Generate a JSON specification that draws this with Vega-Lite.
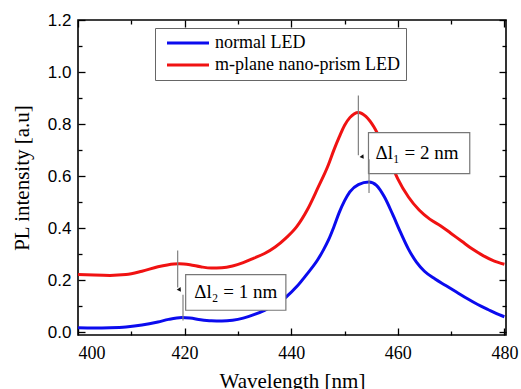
{
  "$schema": "https://vega.github.io/schema/vega-lite/v6.json",
  "width": 428,
  "height": 315,
  "autosize": {"type": "none"},
  "padding": {"left": 78, "top": 20, "right": 15, "bottom": 54},
  "background": "white",
  "config": {
    "view": {"stroke": "#000", "strokeWidth": 1.6},
    "axis": {
      "domain": false,
      "grid": false,
      "tickColor": "#000",
      "tickWidth": 1.3,
      "labelColor": "#000",
      "titleColor": "#000",
      "titleFontWeight": "normal"
    }
  },
  "datasets": {
    "curves": [
      {"wl": 400, "pl": 0.018, "s": "normal LED"},
      {"wl": 403, "pl": 0.017, "s": "normal LED"},
      {"wl": 406, "pl": 0.018, "s": "normal LED"},
      {"wl": 409, "pl": 0.021, "s": "normal LED"},
      {"wl": 412, "pl": 0.028, "s": "normal LED"},
      {"wl": 415, "pl": 0.040, "s": "normal LED"},
      {"wl": 417, "pl": 0.050, "s": "normal LED"},
      {"wl": 419.5, "pl": 0.057, "s": "normal LED"},
      {"wl": 421, "pl": 0.055, "s": "normal LED"},
      {"wl": 423, "pl": 0.049, "s": "normal LED"},
      {"wl": 425, "pl": 0.045, "s": "normal LED"},
      {"wl": 427, "pl": 0.044, "s": "normal LED"},
      {"wl": 429, "pl": 0.047, "s": "normal LED"},
      {"wl": 431, "pl": 0.055, "s": "normal LED"},
      {"wl": 433, "pl": 0.068, "s": "normal LED"},
      {"wl": 435, "pl": 0.085, "s": "normal LED"},
      {"wl": 437, "pl": 0.106, "s": "normal LED"},
      {"wl": 439, "pl": 0.135, "s": "normal LED"},
      {"wl": 441, "pl": 0.175, "s": "normal LED"},
      {"wl": 443, "pl": 0.225, "s": "normal LED"},
      {"wl": 445, "pl": 0.28, "s": "normal LED"},
      {"wl": 446, "pl": 0.315, "s": "normal LED"},
      {"wl": 447, "pl": 0.355, "s": "normal LED"},
      {"wl": 448, "pl": 0.405, "s": "normal LED"},
      {"wl": 449, "pl": 0.46, "s": "normal LED"},
      {"wl": 450, "pl": 0.505, "s": "normal LED"},
      {"wl": 451, "pl": 0.54, "s": "normal LED"},
      {"wl": 452.6, "pl": 0.568, "s": "normal LED"},
      {"wl": 454.6, "pl": 0.578, "s": "normal LED"},
      {"wl": 456, "pl": 0.565, "s": "normal LED"},
      {"wl": 457.5, "pl": 0.52, "s": "normal LED"},
      {"wl": 459, "pl": 0.455, "s": "normal LED"},
      {"wl": 460.5, "pl": 0.385, "s": "normal LED"},
      {"wl": 462, "pl": 0.32, "s": "normal LED"},
      {"wl": 463.5, "pl": 0.27, "s": "normal LED"},
      {"wl": 465, "pl": 0.235, "s": "normal LED"},
      {"wl": 467, "pl": 0.205, "s": "normal LED"},
      {"wl": 469, "pl": 0.18, "s": "normal LED"},
      {"wl": 471, "pl": 0.155, "s": "normal LED"},
      {"wl": 473, "pl": 0.13, "s": "normal LED"},
      {"wl": 475, "pl": 0.107, "s": "normal LED"},
      {"wl": 477, "pl": 0.087, "s": "normal LED"},
      {"wl": 479, "pl": 0.068, "s": "normal LED"},
      {"wl": 480, "pl": 0.06, "s": "normal LED"},
      {"wl": 400, "pl": 0.222, "s": "m-plane nano-prism LED"},
      {"wl": 403, "pl": 0.220, "s": "m-plane nano-prism LED"},
      {"wl": 406, "pl": 0.219, "s": "m-plane nano-prism LED"},
      {"wl": 409, "pl": 0.222, "s": "m-plane nano-prism LED"},
      {"wl": 412, "pl": 0.235, "s": "m-plane nano-prism LED"},
      {"wl": 415, "pl": 0.252, "s": "m-plane nano-prism LED"},
      {"wl": 418, "pl": 0.263, "s": "m-plane nano-prism LED"},
      {"wl": 419, "pl": 0.264, "s": "m-plane nano-prism LED"},
      {"wl": 421, "pl": 0.260, "s": "m-plane nano-prism LED"},
      {"wl": 423, "pl": 0.252, "s": "m-plane nano-prism LED"},
      {"wl": 425, "pl": 0.247, "s": "m-plane nano-prism LED"},
      {"wl": 427, "pl": 0.248, "s": "m-plane nano-prism LED"},
      {"wl": 429, "pl": 0.255, "s": "m-plane nano-prism LED"},
      {"wl": 431, "pl": 0.268, "s": "m-plane nano-prism LED"},
      {"wl": 433, "pl": 0.285, "s": "m-plane nano-prism LED"},
      {"wl": 435, "pl": 0.303, "s": "m-plane nano-prism LED"},
      {"wl": 437, "pl": 0.328, "s": "m-plane nano-prism LED"},
      {"wl": 439, "pl": 0.362, "s": "m-plane nano-prism LED"},
      {"wl": 441, "pl": 0.405, "s": "m-plane nano-prism LED"},
      {"wl": 443, "pl": 0.47, "s": "m-plane nano-prism LED"},
      {"wl": 445, "pl": 0.555, "s": "m-plane nano-prism LED"},
      {"wl": 447, "pl": 0.645, "s": "m-plane nano-prism LED"},
      {"wl": 448, "pl": 0.70, "s": "m-plane nano-prism LED"},
      {"wl": 449, "pl": 0.75, "s": "m-plane nano-prism LED"},
      {"wl": 450, "pl": 0.795, "s": "m-plane nano-prism LED"},
      {"wl": 451, "pl": 0.825, "s": "m-plane nano-prism LED"},
      {"wl": 452.6, "pl": 0.845, "s": "m-plane nano-prism LED"},
      {"wl": 454, "pl": 0.83, "s": "m-plane nano-prism LED"},
      {"wl": 455.5, "pl": 0.79, "s": "m-plane nano-prism LED"},
      {"wl": 457, "pl": 0.73, "s": "m-plane nano-prism LED"},
      {"wl": 458.5, "pl": 0.66, "s": "m-plane nano-prism LED"},
      {"wl": 460, "pl": 0.59, "s": "m-plane nano-prism LED"},
      {"wl": 462, "pl": 0.52, "s": "m-plane nano-prism LED"},
      {"wl": 464, "pl": 0.47, "s": "m-plane nano-prism LED"},
      {"wl": 466, "pl": 0.435, "s": "m-plane nano-prism LED"},
      {"wl": 468, "pl": 0.41, "s": "m-plane nano-prism LED"},
      {"wl": 470, "pl": 0.38, "s": "m-plane nano-prism LED"},
      {"wl": 472, "pl": 0.35, "s": "m-plane nano-prism LED"},
      {"wl": 474, "pl": 0.32, "s": "m-plane nano-prism LED"},
      {"wl": 476, "pl": 0.295, "s": "m-plane nano-prism LED"},
      {"wl": 478, "pl": 0.275, "s": "m-plane nano-prism LED"},
      {"wl": 480, "pl": 0.262, "s": "m-plane nano-prism LED"}
    ],
    "boxes": [
      {"x": 454.5, "x2": 473.5, "y": 0.767, "y2": 0.610},
      {"x": 420.2, "x2": 439.0, "y": 0.222, "y2": 0.085}
    ],
    "guides": [
      {"x": 452.6, "y": 0.91, "y2": 0.68},
      {"x": 454.6, "y": 0.665, "y2": 0.535},
      {"x": 418.7, "y": 0.315, "y2": 0.172},
      {"x": 419.7, "y": 0.145, "y2": 0.046}
    ],
    "heads": [
      {"x": 453.4, "y": 0.673},
      {"x": 419.1, "y": 0.163}
    ],
    "labels": [
      {"x": 463.6, "y": 0.688, "t": "Δl₁ = 2 nm"},
      {"x": 429.6, "y": 0.154, "t": "Δl₂ = 1 nm"}
    ]
  },
  "resolve": {"axis": {"x": "independent", "y": "independent"}},
  "layer": [
    {
      "data": {"name": "curves"},
      "mark": {"type": "line", "strokeWidth": 3, "interpolate": "monotone"},
      "encoding": {
        "x": {
          "field": "wl", "type": "quantitative",
          "scale": {"domain": [400, 480.3], "nice": false, "zero": false},
          "axis": {
            "orient": "bottom", "values": [400, 420, 440, 460, 480], "tickSize": -7,
            "labelPadding": 16, "labelFont": "Liberation Serif", "labelFontSize": 18,
            "title": "Wavelength [nm]", "titleFont": "Liberation Serif", "titleFontSize": 21, "titlePadding": 8
          }
        },
        "y": {
          "field": "pl", "type": "quantitative",
          "scale": {"domain": [-0.01, 1.2], "nice": false, "zero": false},
          "axis": {
            "orient": "left", "values": [0, 0.2, 0.4, 0.6, 0.8, 1.0, 1.2], "format": ".1f", "tickSize": -7,
            "labelPadding": 14, "labelFont": "Liberation Sans", "labelFontSize": 17,
            "title": "PL intensity [a.u]", "titleFont": "Liberation Serif", "titleFontSize": 21, "titlePadding": 15
          }
        },
        "color": {
          "field": "s", "type": "nominal",
          "scale": {"domain": ["normal LED", "m-plane nano-prism LED"], "range": ["#0b0bee", "#f01212"]},
          "legend": {
            "orient": "none", "legendX": 77, "legendY": 8, "title": null,
            "direction": "vertical",
            "fillColor": "white", "strokeColor": "#666", "padding": 6,
            "symbolType": "M-3,0H3", "symbolSize": 196, "symbolStrokeWidth": 3, "symbolOffset": 18,
            "labelFont": "Liberation Serif", "labelFontSize": 18, "labelColor": "#000",
            "labelOffset": 18, "labelLimit": 320, "rowPadding": 4
          }
        }
      }
    },
    {
      "data": {"name": "boxes"},
      "mark": {"type": "rect", "fill": "white", "stroke": "#777", "strokeWidth": 1.2},
      "encoding": {
        "x": {
          "field": "x", "type": "quantitative",
          "scale": {"domain": [400, 480.3], "nice": false, "zero": false},
          "axis": {"orient": "bottom", "values": [410, 430, 450, 470], "tickSize": -4, "labels": false, "title": null}
        },
        "x2": {"field": "x2"},
        "y": {
          "field": "y", "type": "quantitative",
          "scale": {"domain": [-0.01, 1.2], "nice": false, "zero": false},
          "axis": {"orient": "left", "values": [0.1, 0.3, 0.5, 0.7, 0.9, 1.1], "tickSize": -4, "labels": false, "title": null}
        },
        "y2": {"field": "y2"}
      }
    },
    {
      "data": {"name": "guides"},
      "mark": {"type": "rule", "stroke": "#808080", "strokeWidth": 1.2},
      "encoding": {
        "x": {
          "field": "x", "type": "quantitative",
          "scale": {"domain": [400, 480.3], "nice": false, "zero": false},
          "axis": {"orient": "top", "values": [400, 420, 440, 460, 480], "tickSize": -7, "labels": false, "title": null}
        },
        "y": {
          "field": "y", "type": "quantitative",
          "scale": {"domain": [-0.01, 1.2], "nice": false, "zero": false},
          "axis": {"orient": "right", "values": [0, 0.2, 0.4, 0.6, 0.8, 1.0, 1.2], "tickSize": -7, "labels": false, "title": null}
        },
        "y2": {"field": "y2"}
      }
    },
    {
      "data": {"name": "labels"},
      "mark": {"type": "text", "font": "Liberation Serif", "fontSize": 19, "color": "#000", "align": "center", "baseline": "middle"},
      "encoding": {
        "x": {
          "field": "x", "type": "quantitative",
          "scale": {"domain": [400, 480.3], "nice": false, "zero": false},
          "axis": {"orient": "top", "values": [410, 430, 450, 470], "tickSize": -4, "labels": false, "title": null}
        },
        "y": {
          "field": "y", "type": "quantitative",
          "scale": {"domain": [-0.01, 1.2], "nice": false, "zero": false},
          "axis": {"orient": "right", "values": [0.1, 0.3, 0.5, 0.7, 0.9, 1.1], "tickSize": -4, "labels": false, "title": null}
        },
        "text": {"field": "t"}
      }
    },
    {
      "data": {"name": "heads"},
      "mark": {"type": "point", "shape": "triangle-down", "filled": true, "color": "#111", "size": 22, "angle": -35, "opacity": 1},
      "encoding": {
        "x": {"field": "x", "type": "quantitative", "scale": {"domain": [400, 480.3], "nice": false, "zero": false}, "axis": null},
        "y": {"field": "y", "type": "quantitative", "scale": {"domain": [-0.01, 1.2], "nice": false, "zero": false}, "axis": null}
      }
    }
  ]
}
